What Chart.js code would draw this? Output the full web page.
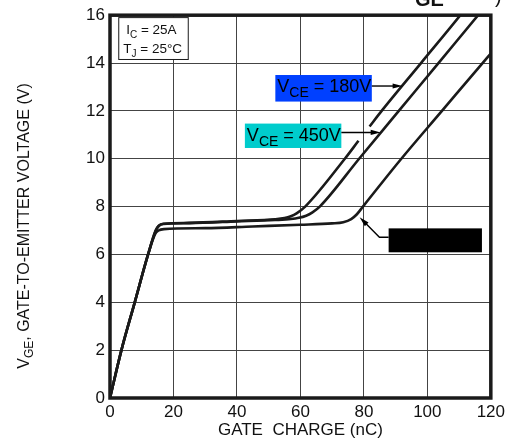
<!DOCTYPE html>
<html>
<head>
<meta charset="utf-8">
<script src="https://cdn.jsdelivr.net/npm/chart.js@4/dist/chart.umd.min.js"></script>
<style>
  html, body { margin: 0; padding: 0; background: #fff; }
</style>
</head>
<body>
<canvas id="gateChart" width="509" height="446"></canvas>
<script>
// Gate charge (nC) vs gate-to-emitter voltage (V)
const charge180 = [0, 3.6, 7.8, 12, 14.4, 15.4, 16.8, 25, 40, 52, 55, 57, 58.8, 61.5, 74, 78.3, 81.8, 85.6, 98, 110.4, 112];
const volts180  = [0, 2, 4, 6, 7.0, 7.2, 7.28, 7.32, 7.4, 7.47, 7.52, 7.6, 7.72, 8, 10, 10.75, 11.35, 12, 14, 16, 16.27];
const gap180 = 15; // index where the curve is broken for the 450V arrow

const charge450 = [0, 3.6, 7.8, 12, 14.4, 15.4, 16.8, 25, 40, 52, 57, 59.5, 61.8, 63.8, 66.1, 78.5, 91, 103.5, 116, 117];
const volts450  = [0, 2, 4, 6, 7.0, 7.2, 7.27, 7.31, 7.38, 7.44, 7.48, 7.53, 7.62, 7.76, 8, 10, 12, 14, 16, 16.16];

const chargeHi = [0, 3.6, 7.8, 12, 14.2, 15.3, 17, 30, 45, 60, 70, 73.5, 76, 77.8, 79.7, 91.8, 104.6, 117.4, 120];
const voltsHi  = [0, 2, 4, 6, 6.85, 7.0, 7.06, 7.1, 7.17, 7.24, 7.3, 7.35, 7.48, 7.68, 8, 10, 12, 14, 14.4];

const xTicks = [0, 20, 40, 60, 80, 100, 120];
const yTicks = [0, 2, 4, 6, 8, 10, 12, 14, 16];

const FONT = '"Liberation Sans", Arial, Helvetica, sans-serif';
const INK = '#1a1a1a';

function toPoints(xs, ys) {
    return xs.map((q, i) => ({ x: q, y: ys[i] }));
}

// write text made of pieces (for subscripts), returns width
function drawRich(ctx, x, y, parts) {
    let cx = x;
    parts.forEach(([t, size, dy, weight]) => {
        ctx.font = `${weight || 'normal'} ${size}px ${FONT}`;
        ctx.fillText(t, cx, y + (dy || 0));
        cx += ctx.measureText(t).width;
    });
    return cx - x;
}

function measureRich(ctx, parts) {
    let w = 0;
    parts.forEach(([t, size, dy, weight]) => {
        ctx.font = `${weight || 'normal'} ${size}px ${FONT}`;
        w += ctx.measureText(t).width;
    });
    return w;
}

function arrowHead(ctx, x1, y1, x2, y2, len, half) {
    const a = Math.atan2(y2 - y1, x2 - x1);
    ctx.beginPath();
    ctx.moveTo(x2, y2);
    ctx.lineTo(x2 - len * Math.cos(a) + half * Math.sin(a), y2 - len * Math.sin(a) - half * Math.cos(a));
    ctx.lineTo(x2 - len * Math.cos(a) - half * Math.sin(a), y2 - len * Math.sin(a) + half * Math.cos(a));
    ctx.closePath();
    ctx.fill();
}

const labelNotes = [
    { text: ' = 180V', fill: '#0040ff', box: [52.1, 13.5, 82.5, 12.39], line: [[82.5, 13.04], [92.2, 13.04]] },
    { text: ' = 450V', fill: '#00cccc', box: [42.5, 11.47, 72.9, 10.45], line: [[72.9, 11.1], [85.3, 11.1]] }
];
const hiddenNote = { box: [87.8, 7.09, 117.2, 6.09], line: [[87.8, 6.72], [84.9, 6.72], [78.66, 7.55]] };
const insetBox = [2.6, 15.92, 24.5, 14.17];

const notesPlugin = {
    id: 'notesPlugin',
    afterDatasetsDraw(chart) {
        const { ctx, chartArea: a, scales: { x, y } } = chart;
        ctx.save();

        // condition box
        const bx0 = x.getPixelForValue(insetBox[0]), by0 = y.getPixelForValue(insetBox[1]);
        const bx1 = x.getPixelForValue(insetBox[2]), by1 = y.getPixelForValue(insetBox[3]);
        ctx.fillStyle = '#fff';
        ctx.fillRect(bx0, by0, bx1 - bx0, by1 - by0);
        ctx.strokeStyle = INK;
        ctx.lineWidth = 1;
        ctx.strokeRect(bx0 + 0.5, by0 + 0.5, bx1 - bx0, by1 - by0);
        ctx.fillStyle = '#111';
        ctx.textBaseline = 'alphabetic';
        drawRich(ctx, bx0 + 8, by0 + 17, [['I', 13.5], ['C', 10, 3.5], [' = 25A', 13.5]]);
        drawRich(ctx, bx0 + 5, by0 + 36, [['T', 13.5], ['J', 10, 3.5], [' = 25°C', 13.5]]);

        // V_CE labels with arrows
        labelNotes.forEach(n => {
            const x0 = x.getPixelForValue(n.box[0]), y0 = y.getPixelForValue(n.box[1]);
            const x1 = x.getPixelForValue(n.box[2]), y1 = y.getPixelForValue(n.box[3]);
            ctx.fillStyle = n.fill;
            ctx.fillRect(x0, y0, x1 - x0, y1 - y0);
            ctx.fillStyle = '#000';
            drawRich(ctx, x0 + 2, y0 + 17, [['V', 18], ['CE', 14, 5], [n.text, 18]]);
            const [p, q] = n.line.map(([cx, cy]) => [x.getPixelForValue(cx), y.getPixelForValue(cy)]);
            ctx.strokeStyle = '#000';
            ctx.lineWidth = 1.4;
            ctx.beginPath();
            ctx.moveTo(p[0], p[1]);
            ctx.lineTo(q[0] - 6, q[1]);
            ctx.stroke();
            arrowHead(ctx, p[0], p[1], q[0], q[1], 10, 2.6);
        });

        // blacked-out third label
        const h = hiddenNote;
        const hx0 = x.getPixelForValue(h.box[0]), hy0 = y.getPixelForValue(h.box[1]);
        const hx1 = x.getPixelForValue(h.box[2]), hy1 = y.getPixelForValue(h.box[3]);
        ctx.fillStyle = '#000';
        ctx.fillRect(hx0, hy0, hx1 - hx0, hy1 - hy0);
        const pts = h.line.map(([cx, cy]) => [x.getPixelForValue(cx), y.getPixelForValue(cy)]);
        ctx.lineWidth = 1.4;
        ctx.beginPath();
        ctx.moveTo(pts[0][0], pts[0][1]);
        ctx.lineTo(pts[1][0], pts[1][1]);
        const last = pts[2], prev = pts[1];
        const ang = Math.atan2(last[1] - prev[1], last[0] - prev[0]);
        ctx.lineTo(last[0] - 6 * Math.cos(ang), last[1] - 6 * Math.sin(ang));
        ctx.stroke();
        arrowHead(ctx, prev[0], prev[1], last[0], last[1], 10, 2.6);

        // heavy frame
        ctx.strokeStyle = INK;
        ctx.lineWidth = 3.5;
        ctx.strokeRect(a.left, a.top, a.right - a.left, a.bottom - a.top);

        // y axis title, rotated, with subscript
        const parts = [['V', 16], ['GE', 12, 4], [', GATE-TO-EMITTER VOLTAGE (V)', 16]];
        const w = measureRich(ctx, parts);
        ctx.translate(29, 226);
        ctx.rotate(-Math.PI / 2);
        ctx.fillStyle = '#111';
        drawRich(ctx, -w / 2, 0, parts);
        ctx.setTransform(1, 0, 0, 1, 0, 0);

        // cropped title remnants at the very top
        ctx.fillStyle = '#111';
        ctx.font = `bold 20px ${FONT}`;
        ctx.fillText('GE', 415, 6);
        ctx.font = `normal 20px ${FONT}`;
        ctx.fillText(')', 495, 3);

        ctx.restore();
    }
};

const lineStyle = {
    borderColor: INK,
    borderWidth: 2.6,
    pointRadius: 0,
    fill: false,
    cubicInterpolationMode: 'monotone'
};

new Chart(document.getElementById('gateChart'), {
    type: 'line',
    data: {
        datasets: [
            Object.assign({
                label: 'VCE = 180V',
                data: toPoints(charge180, volts180),
                segment: { borderColor: c => c.p0DataIndex === gap180 ? 'rgba(0,0,0,0)' : INK }
            }, lineStyle),
            Object.assign({ label: 'VCE = 450V', data: toPoints(charge450, volts450) }, lineStyle),
            Object.assign({ label: 'VCE = ?', data: toPoints(chargeHi, voltsHi) }, lineStyle)
        ]
    },
    options: {
        responsive: false,
        animation: false,
        devicePixelRatio: 1,
        layout: { padding: { top: 14, right: 15, left: 0, bottom: 0 } },
        plugins: { legend: { display: false }, tooltip: { enabled: false } },
        scales: {
            x: {
                type: 'linear',
                min: 0,
                max: 120,
                afterFit: s => { s.height = 48; },
                afterBuildTicks: s => { s.ticks = xTicks.map(v => ({ value: v })); },
                grid: { color: '#444', lineWidth: 1, drawTicks: false },
                border: { display: false },
                ticks: { padding: 4, color: '#111', font: { family: FONT, size: 17 }, maxRotation: 0 },
                title: { display: true, text: 'GATE  CHARGE (nC)', color: '#111', font: { family: FONT, size: 17 }, padding: { top: 0, bottom: 5 } }
            },
            y: {
                type: 'linear',
                min: 0,
                max: 16,
                afterFit: s => { s.width = 110; },
                afterBuildTicks: s => { s.ticks = yTicks.map(v => ({ value: v })); },
                grid: { color: '#444', lineWidth: 1, drawTicks: false },
                border: { display: false },
                ticks: { padding: 5, color: '#111', font: { family: FONT, size: 17 } }
            }
        }
    },
    plugins: [notesPlugin]
});
</script>
</body>
</html>
